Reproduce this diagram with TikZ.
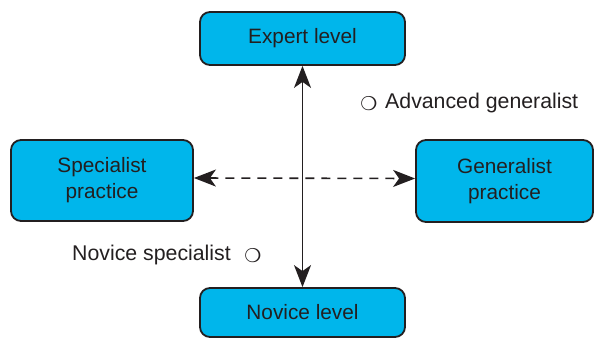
\documentclass[tikz,border=0pt]{standalone}
\usepackage{fontspec}
\setmainfont{Liberation Sans}
\newfontfamily\symfont{DejaVu Sans}
\usetikzlibrary{arrows.meta}
\definecolor{boxfill}{HTML}{00B6EB}
\definecolor{ink}{HTML}{231F20}
\tikzset{
  levelbox/.style={draw=ink, line width=1.8pt, fill=boxfill, rounded corners=10pt,
    align=center, text=ink, font=\fontsize{20.8}{26}\selectfont, inner sep=0pt},
  tip/.tip={Stealth[length=22pt,width=17pt,inset=6pt]},
  axis/.style={draw=ink, line width=1.6pt, arrows={tip-tip}},
  note/.style={text=ink, font=\fontsize{21.3}{25}\selectfont, inner sep=0pt},
  ring/.style={text=ink, font=\symfont\fontsize{19}{19}\selectfont, inner sep=0pt}
}
\begin{document}
\begin{tikzpicture}[x=1pt,y=-1pt]
  \useasboundingbox (0,0) rectangle (594,339);
  % level and practice boxes
  \node[levelbox, minimum width=205pt, minimum height=53pt] (expert) at (302.5,38.5) {Expert level};
  \node[levelbox, minimum width=205pt, minimum height=49pt] (novice) at (302.5,312.5) {Novice level};
  \node[levelbox, minimum width=182pt, minimum height=81pt] (spec) at (102,180.5) {Specialist\\practice};
  \node[levelbox, minimum width=177pt, minimum height=82pt] (gen) at (504.5,181) {Generalist\\practice};
  % axes
  \draw[axis] (expert.south) -- (novice.north);
  \draw[axis, dash pattern=on 9pt off 7pt] ([yshift=2.5pt]spec.east) -- ([yshift=2.5pt]gen.west);
  % quadrant labels
  \node[ring] (ringA) at (369,104) {❍};
  \node[note, anchor=west] (adv) at (385,103) {Advanced generalist};
  \node[note, anchor=east] (nov) at (231,255) {Novice specialist};
  \node[ring] (ringB) at (253,256) {❍};
\end{tikzpicture}
\end{document}
